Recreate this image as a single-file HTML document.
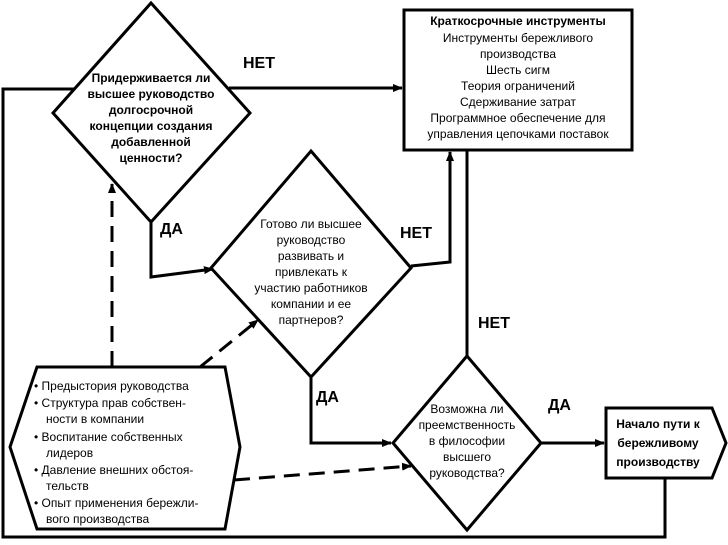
<!DOCTYPE html>
<html><head><meta charset="utf-8"><style>
html,body{margin:0;padding:0;background:#fff;}
svg{display:block;}
text{font-family:"Liberation Sans",sans-serif;font-size:12px;fill:#000;}
.b{font-weight:bold;}
.l{font-size:16px;font-weight:bold;}
</style></head><body>
<svg width="728" height="545" viewBox="0 0 728 545" xmlns="http://www.w3.org/2000/svg">
<defs><marker id="a" markerWidth="10" markerHeight="8" refX="9" refY="4" orient="auto" markerUnits="userSpaceOnUse"><path d="M0,0 L10,4 L0,8 Z" fill="#000"/></marker></defs>
<g fill="none" stroke="#000" stroke-width="3">
<polygon points="151,3 250,113 151,222 53,113" fill="#fff"/>
<polygon points="311,151 411,268 311,377 211,268" fill="#fff"/>
<polygon points="467,356 541,443 467,530 393,443" fill="#fff"/>
<rect x="404" y="10" width="228" height="140" fill="#fff"/>
<polygon points="606,408 712,408 726,443 712,478 606,478" fill="#fff"/>
<polygon points="37,367 225,367 240,447 225,529 37,529 10,447" fill="#fff"/>
<polyline points="75,89 3,89 3,537 665,537 665,478"/>
<line x1="229" y1="88" x2="402" y2="88" marker-end="url(#a)"/>
<polyline points="151,222 151,277 213,269" marker-end="url(#a)"/>
<polyline points="411,266 450,262 450,152" marker-end="url(#a)"/>
<line x1="467" y1="150" x2="467" y2="356"/>
<polyline points="311,377 311,443 391,443" marker-end="url(#a)"/>
<line x1="541" y1="443" x2="604" y2="443" marker-end="url(#a)"/>
<g stroke-dasharray="16,9">
<line x1="112" y1="367" x2="112" y2="184" marker-end="url(#a)"/>
<line x1="200" y1="367" x2="258" y2="320" marker-end="url(#a)"/>
<line x1="234" y1="480" x2="411" y2="466" marker-end="url(#a)"/>
</g>
</g>
<text class="l" x="243" y="68">НЕТ</text>
<text class="l" x="160" y="234">ДА</text>
<text class="l" x="400" y="238">НЕТ</text>
<text class="l" x="478" y="328">НЕТ</text>
<text class="l" x="316" y="402">ДА</text>
<text class="l" x="548" y="410">ДА</text>
<g text-anchor="middle" class="b" style="font-size:11.5px">
<text x="151" y="82">Придерживается ли</text>
<text x="151" y="98">высшее руководство</text>
<text x="151" y="114">долгосрочной</text>
<text x="151" y="130">концепции создания</text>
<text x="151" y="146">добавленной</text>
<text x="151" y="162">ценности?</text>
</g>
<g text-anchor="middle" style="font-size:11.5px">
<text x="311" y="228">Готово ли высшее</text>
<text x="311" y="244">руководство</text>
<text x="311" y="260">развивать и</text>
<text x="311" y="276">привлекать к</text>
<text x="311" y="292">участию работников</text>
<text x="311" y="308">компании и ее</text>
<text x="311" y="324">партнеров?</text>
<text x="467" y="413">Возможна ли</text>
<text x="467" y="429">преемственность</text>
<text x="467" y="445">в философии</text>
<text x="467" y="461">высшего</text>
<text x="467" y="477">руководства?</text>
<text x="518" y="25" class="b">Краткосрочные инструменты</text>
<text x="518" y="42">Инструменты бережливого</text>
<text x="518" y="58">производства</text>
<text x="518" y="74">Шесть сигм</text>
<text x="518" y="90">Теория ограничений</text>
<text x="518" y="106">Сдерживание затрат</text>
<text x="518" y="122">Программное обеспечение для</text>
<text x="518" y="138">управления цепочками поставок</text>
</g>
<g text-anchor="middle" class="b" style="font-size:12px">
<text x="658" y="428">Начало пути к</text>
<text x="658" y="447">бережливому</text>
<text x="658" y="466">производству</text>
</g>
<g style="font-size:11.5px">
<text x="34" y="390">• Предыстория руководства</text>
<text x="34" y="407">• Структура прав собствен-</text>
<text x="46" y="423">ности в компании</text>
<text x="34" y="441">• Воспитание собственных</text>
<text x="46" y="457">лидеров</text>
<text x="34" y="474">• Давление внешних обстоя-</text>
<text x="46" y="490">тельств</text>
<text x="34" y="507">• Опыт применения бережли-</text>
<text x="46" y="523">вого производства</text>
</g>
</svg>
</body></html>
